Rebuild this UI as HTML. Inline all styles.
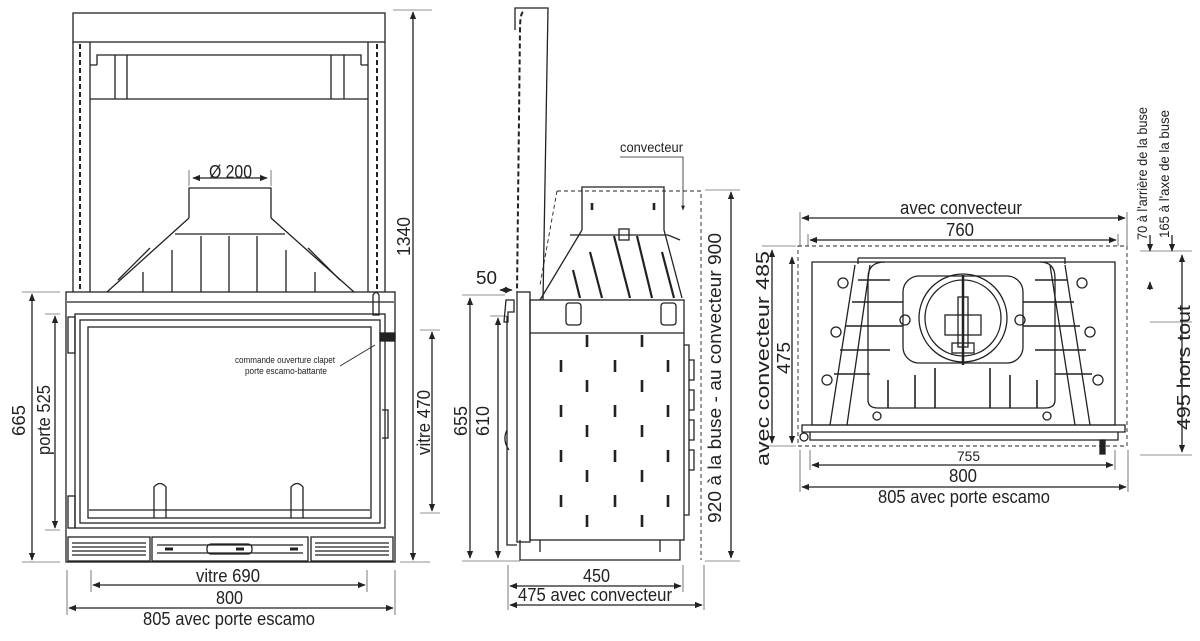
<!DOCTYPE html>
<html><head><meta charset="utf-8"><style>
html,body{margin:0;padding:0;background:#fff}
svg{display:block}
text{font-family:"Liberation Sans",sans-serif;fill:#222}
</style></head><body>
<svg width="1200" height="641" viewBox="0 0 1200 641" xmlns="http://www.w3.org/2000/svg">
<defs>
<marker id="a" viewBox="0 0 10 10" refX="9" refY="5" markerWidth="6" markerHeight="6" orient="auto-start-reverse"><path d="M0,1 L10,5 L0,9 z" fill="#222"/></marker>
</defs>
<g stroke="#222" fill="none" stroke-width="1.3">
<!-- FRONT VIEW -->
<rect x="73" y="13" width="312" height="29"/>
<line x1="73" y1="42" x2="73" y2="292"/><line x1="385" y1="42" x2="385" y2="292"/>
<line x1="90" y1="42" x2="90" y2="292"/><line x1="368" y1="42" x2="368" y2="292"/>
<line x1="80" y1="44" x2="80" y2="292" stroke-dasharray="5,3" stroke-width="2"/>
<line x1="377" y1="44" x2="377" y2="292" stroke-dasharray="5,3" stroke-width="2"/>
<path d="M90,99 H368 M97,65 V55 H361 V65 M90,65 H97 M361,65 H368 M115,55 V99 M127,55 V99 M331,55 V99 M344,55 V99"/>
<path d="M189,218 V188 H271 V218 M189,218 L107,292 M271,218 L354,292 M175,234 H285"/>
<path d="M201,236 V292 M229,236 V292 M257,236 V292 M172,250 V292 M286,250 V292 M143,272 V292 M315,272 V292"/>
<path d="M150,248 L118,280 M308,248 L340,280"/>
<rect x="66" y="292" width="329" height="270"/>
<line x1="67" y1="302" x2="394" y2="302"/>
<rect x="75" y="314" width="310" height="214"/>
<rect x="80" y="320" width="300" height="203"/>
<rect x="88" y="327" width="283" height="191"/>
<line x1="89" y1="510" x2="370" y2="510"/>
<path d="M154,518 V487 Q160,480 166,487 V518 M291,518 V487 Q297,480 303,487 V518"/>
<rect x="68" y="317" width="7" height="36"/><rect x="68" y="496" width="7" height="32"/>
<rect x="380" y="333" width="15" height="8" fill="#222"/>
<path d="M382,410 h6 v28 h-6"/>
<path d="M373,295 q3,-5 6,0 v20 h-6 z"/>
<line x1="340" y1="366" x2="375" y2="345" stroke-width="0.8"/>
<rect x="68" y="537" width="82" height="24"/><rect x="152" y="537" width="156" height="24"/><rect x="311" y="537" width="82" height="24"/>
<path d="M72,543 H146 M72,547 H146 M72,551 H146 M72,555 H146 M315,543 H389 M315,547 H389 M315,551 H389 M315,555 H389 M157,545 H303 M157,553 H303"/>
<rect x="207" y="544" width="45" height="10" rx="4"/>
<path d="M165,549 h8 M236,549 h8 M290,549 h8" stroke-width="3"/>
<!-- front dims -->
<line x1="32" y1="294" x2="32" y2="560" marker-start="url(#a)" marker-end="url(#a)"/>
<path d="M22,292 H60 M22,562 H60 M45,314 H60 M45,530 H60" stroke-width="0.6"/>
<line x1="55" y1="316" x2="55" y2="528" marker-start="url(#a)" marker-end="url(#a)"/>
<line x1="413" y1="12" x2="413" y2="560" marker-start="url(#a)" marker-end="url(#a)"/>
<path d="M393,10 H432 M400,562 H430 M420,330 H440 M420,513 H440" stroke-width="0.6"/>
<line x1="432" y1="332" x2="432" y2="511" marker-start="url(#a)" marker-end="url(#a)"/>
<path d="M91,570 V592 M367,570 V592 M67,570 V615 M395,570 V615" stroke-width="0.6"/>
<line x1="93" y1="585" x2="365" y2="585" marker-start="url(#a)" marker-end="url(#a)"/>
<line x1="69" y1="608" x2="393" y2="608" marker-start="url(#a)" marker-end="url(#a)"/>
<line x1="193" y1="178" x2="267" y2="178" marker-start="url(#a)" marker-end="url(#a)"/>
<path d="M189,170 V186 M271,170 V186" stroke-width="0.6"/>

<!-- SIDE VIEW -->
<path d="M515,30 V8 H548 L543,300"/>
<path d="M523,12 Q520,14 520,30 L517,292" stroke-dasharray="5,3" stroke-width="2"/>
<rect x="517" y="292" width="13" height="250"/>
<rect x="530" y="300" width="154" height="240"/>
<line x1="530" y1="333" x2="684" y2="333"/>
<path d="M582,230 V187 H664 V230 M582,230 L540,300 M664,230 L682,298 M570,235 H668 L680,240"/>
<path d="M557,191 H701 V560 M557,191 L540,285" stroke-dasharray="4,3" stroke-width="0.9"/>
<g stroke-width="2.2"><path d="M573,270 L580,298 M590,252 L602,298 M614,236 L630,298 M637,236 L652,298 M662,252 L674,298"/></g>
<rect x="619" y="229" width="10" height="11"/>
<rect x="566" y="303" width="15" height="22" rx="3"/><rect x="661" y="303" width="15" height="22" rx="3"/>
<g stroke-width="2.6">
<path d="M561,360 v12 M561,405 v12 M561,450 v12 M561,495 v12 M587,335 v12 M587,380 v12 M587,425 v12 M587,470 v12 M587,515 v12 M615,360 v12 M615,405 v12 M615,450 v12 M615,495 v12 M642,335 v12 M642,380 v12 M642,425 v12 M642,470 v12 M642,515 v12 M668,360 v12 M668,405 v12 M668,450 v12 M668,495 v12"/>
<path d="M592,203 v7 M654,203 v7"/>
</g>
<path d="M684,345 h5 v170 h-5 M689,360 h5 v20 h-5 M689,390 h5 v20 h-5 M689,420 h5 v20 h-5 M689,450 h5 v20 h-5"/>
<path d="M506,300 h8 v12 h-6 v10 h-4 z M507,316 V545 H517 M507,430 q-5,10 2,20"/>
<path d="M520,540 v20 h160 v-20 M540,540 v12 M660,540 v12"/>
<line x1="470" y1="298" x2="470" y2="558" marker-start="url(#a)" marker-end="url(#a)"/>
<line x1="498" y1="318" x2="498" y2="558" marker-start="url(#a)" marker-end="url(#a)"/>
<path d="M462,295 H505 M490,316 H507 M462,561 H520" stroke-width="0.6"/>
<line x1="731" y1="192" x2="731" y2="558" marker-start="url(#a)" marker-end="url(#a)"/>
<path d="M705,190 H740 M705,561 H740" stroke-width="0.6"/>
<line x1="500" y1="290" x2="512" y2="290" marker-start="url(#a)" marker-end="url(#a)"/>
<path d="M508,565 V610 M683,565 V592 M704,565 V610" stroke-width="0.6"/>
<line x1="510" y1="586" x2="681" y2="586" marker-start="url(#a)" marker-end="url(#a)"/>
<line x1="510" y1="605" x2="702" y2="605" marker-start="url(#a)" marker-end="url(#a)"/>
<path d="M620,157 H683 V210" stroke-width="0.8" marker-end="url(#a)"/>

<!-- TOP VIEW -->
<rect x="798" y="246" width="329" height="200" stroke-dasharray="4,3" stroke-width="0.9"/>
<path d="M812,262 H1115 V425 H812 Z"/>
<path d="M858,258 H1065 V264 M858,258 V264"/>
<path d="M802,425 H1125 V432 H802 Z M810,432 H1118 V440 H810 Z"/>
<path d="M855,265 L830,425 M870,265 L847,425 M1065,265 L1090,425 M1050,265 L1075,425"/>
<path d="M885,262 Q868,262 868,278 V400 Q868,408 878,408 H1045 Q1055,408 1055,400 V278 Q1055,262 1040,262"/>
<rect x="903" y="276" width="120" height="87" rx="16"/>
<circle cx="963" cy="318" r="44"/><circle cx="963" cy="318" r="38"/>
<rect x="945" y="315" width="36" height="20"/><rect x="958" y="297" width="10" height="50"/>
<rect x="952" y="343" width="22" height="10"/>
<line x1="963" y1="275" x2="963" y2="365" stroke-width="2.5"/>
<g stroke-width="1.6">
<path d="M858,280 H890 M852,302 H903 M846,326 H903 M840,350 H890 M834,374 H870 M1035,280 H1068 M1023,302 H1074 M1023,326 H1080 M1035,350 H1086 M1055,374 H1092"/>
<path d="M888,380 V408 M915,375 V408 M935,368 V408 M990,368 V408 M1010,375 V408 M1037,380 V408"/>
</g>
<circle cx="843" cy="283" r="5"/><circle cx="905" cy="320" r="5"/><circle cx="836" cy="332" r="5"/><circle cx="827" cy="380" r="5"/>
<circle cx="1082" cy="283" r="5"/><circle cx="1020" cy="320" r="5"/><circle cx="1090" cy="332" r="5"/><circle cx="1098" cy="380" r="5"/>
<circle cx="877" cy="416" r="4"/><circle cx="1047" cy="416" r="4"/><circle cx="804" cy="437" r="4"/>
<rect x="1100" y="440" width="5" height="14" fill="#222"/>
<path d="M800,212 V246 M1127,212 V246 M808,234 V246 M1118,234 V246" stroke-width="0.6"/>
<line x1="802" y1="218" x2="1125" y2="218" marker-start="url(#a)" marker-end="url(#a)"/>
<line x1="810" y1="240" x2="1116" y2="240" marker-start="url(#a)" marker-end="url(#a)"/>
<line x1="772" y1="250" x2="772" y2="443" marker-start="url(#a)" marker-end="url(#a)"/>
<line x1="792" y1="257" x2="792" y2="443" marker-start="url(#a)" marker-end="url(#a)"/>
<path d="M762,246 H796 M762,446 H796" stroke-width="0.6"/>
<path d="M810,450 V470 M1115,450 V470 M800,450 V492 M1128,450 V492" stroke-width="0.6"/>
<line x1="812" y1="465" x2="1113" y2="465" marker-start="url(#a)" marker-end="url(#a)"/>
<line x1="802" y1="487" x2="1126" y2="487" marker-start="url(#a)" marker-end="url(#a)"/>
<line x1="1182" y1="255" x2="1182" y2="452" marker-start="url(#a)" marker-end="url(#a)"/>
<path d="M1140,251 H1192 M1150,322 H1192 M1140,455 H1192" stroke-width="0.6"/>
<line x1="1150" y1="235" x2="1150" y2="251" marker-end="url(#a)"/>
<line x1="1172" y1="235" x2="1172" y2="251" marker-end="url(#a)"/>
<line x1="1150" y1="290" x2="1150" y2="282" marker-end="url(#a)"/>
</g>

<!-- LABELS -->
<g font-size="18">
<text x="209" y="178" textLength="43" lengthAdjust="spacingAndGlyphs">Ø 200</text>
<text transform="translate(410,256) rotate(-90)" textLength="39" lengthAdjust="spacingAndGlyphs">1340</text>
<text transform="translate(25,436) rotate(-90)" textLength="31" lengthAdjust="spacingAndGlyphs">665</text>
<text transform="translate(50,455) rotate(-90)" textLength="70" lengthAdjust="spacingAndGlyphs">porte 525</text>
<text transform="translate(430,455) rotate(-90)" textLength="65" lengthAdjust="spacingAndGlyphs">vitre 470</text>
<text x="196" y="582" textLength="64" lengthAdjust="spacingAndGlyphs">vitre 690</text>
<text x="216" y="604" textLength="27" lengthAdjust="spacingAndGlyphs">800</text>
<text x="143" y="625" textLength="172" lengthAdjust="spacingAndGlyphs">805 avec porte escamo</text>
<text x="476" y="284" textLength="21" lengthAdjust="spacingAndGlyphs">50</text>
<text transform="translate(467,436) rotate(-90)" textLength="30" lengthAdjust="spacingAndGlyphs">655</text>
<text transform="translate(489,436) rotate(-90)" textLength="30" lengthAdjust="spacingAndGlyphs">610</text>
<text transform="translate(721,523) rotate(-90)" textLength="290" lengthAdjust="spacingAndGlyphs">920 à la buse - au convecteur 900</text>
<text x="583" y="582" textLength="27" lengthAdjust="spacingAndGlyphs">450</text>
<text x="518" y="601" textLength="154" lengthAdjust="spacingAndGlyphs">475 avec convecteur</text>
<text x="900" y="214" textLength="122" lengthAdjust="spacingAndGlyphs">avec convecteur</text>
<text x="946" y="236" textLength="28" lengthAdjust="spacingAndGlyphs">760</text>
<text transform="translate(769,466) rotate(-90)" textLength="215" lengthAdjust="spacingAndGlyphs">avec convecteur 485</text>
<text transform="translate(790,374) rotate(-90)" textLength="32" lengthAdjust="spacingAndGlyphs">475</text>
<text x="949" y="482" textLength="28" lengthAdjust="spacingAndGlyphs">800</text>
<text x="878" y="503" textLength="172" lengthAdjust="spacingAndGlyphs">805 avec porte escamo</text>
<text transform="translate(1190,430) rotate(-90)" textLength="125" lengthAdjust="spacingAndGlyphs">495 hors tout</text>
</g>
<g font-size="14">
<text x="620" y="152" textLength="63" lengthAdjust="spacingAndGlyphs">convecteur</text>
<text x="957" y="461" textLength="23" lengthAdjust="spacingAndGlyphs">755</text>
<text transform="translate(1147,240) rotate(-90)" textLength="133" lengthAdjust="spacingAndGlyphs">70 à l'arrière de la buse</text>
<text transform="translate(1169,238) rotate(-90)" textLength="128" lengthAdjust="spacingAndGlyphs">165 à l'axe de la buse</text>
</g>
<g font-size="9">
<text x="235" y="363" textLength="100" lengthAdjust="spacingAndGlyphs">commande ouverture clapet</text>
<text x="245" y="374" textLength="82" lengthAdjust="spacingAndGlyphs">porte escamo-battante</text>
</g>
</svg>
</body></html>
